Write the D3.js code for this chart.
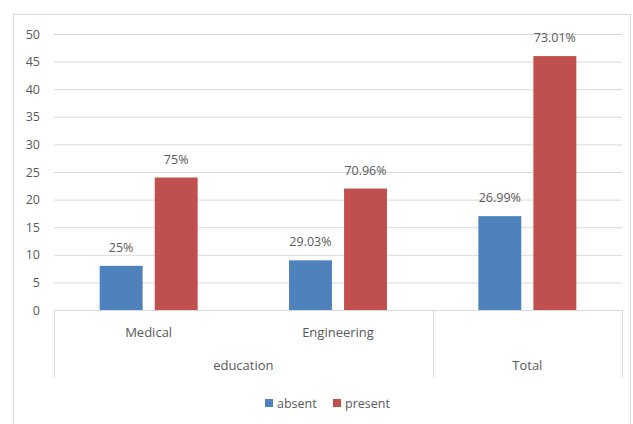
<!DOCTYPE html>
<html><head><meta charset="utf-8">
<script src="https://cdn.jsdelivr.net/npm/d3@7"></script>
<style>body{margin:0;background:#fff;} text{font-family:"Open Sans","Noto Sans",sans-serif;}</style>
</head><body>
<svg id="c" width="633" height="424"></svg>
<script>
const categories = ["Medical", "Engineering", "Total"];
const groups = [{name: "education", members: ["Medical", "Engineering"]}, {name: "Total", members: ["Total"]}];
const seriesNames = ["absent", "present"];
const absentValues = [8, 9, 17];
const presentValues = [24, 22, 46];
const absentLabels = ["25%", "29.03%", "26.99%"];
const presentLabels = ["75%", "70.96%", "73.01%"];
const yTicks = [0, 5, 10, 15, 20, 25, 30, 35, 40, 45, 50];
const colors = {absent: "#4F81BD", present: "#C0504D"};

(function () {
const svg = d3.select("#c");
const W = 633, H = 424;
svg.append("rect").attr("x", 13.5).attr("y", 14.5).attr("width", W - 16).attr("height", H).attr("fill", "#fff").attr("stroke", "#d9d9d9");

const pLeft = 54, pRight = 622, pTop = 34, pBottom = 310;
const y = d3.scaleLinear().domain([0, 50]).range([pBottom, pTop]);
const x = d3.scaleBand().domain(categories).range([pLeft, pRight]).paddingInner(0).paddingOuter(0);
const xs = d3.scaleBand().domain(seriesNames).range([0, x.bandwidth()]).paddingInner(0.22).paddingOuter(0.83);

const yAxis = d3.axisLeft(y).tickValues(yTicks).tickSize(-(pRight - pLeft)).tickPadding(14);
const gy = svg.append("g").attr("transform", `translate(${pLeft},0)`).call(yAxis);
gy.select(".domain").remove();
gy.selectAll(".tick line").attr("stroke", "#d9d9d9").attr("stroke-width", 1);
gy.selectAll(".tick text").attr("fill", "#595959").attr("font-size", 12.5).attr("font-family", "'Open Sans',sans-serif");

const data = categories.map((c, i) => ({cat: c, vals: [
  {s: "absent", v: absentValues[i], l: absentLabels[i]},
  {s: "present", v: presentValues[i], l: presentLabels[i]}]}));
const cg = svg.selectAll(".cat").data(data).enter().append("g").attr("transform", d => `translate(${x(d.cat)},0)`);
cg.selectAll("rect").data(d => d.vals).enter().append("rect")
  .attr("x", d => xs(d.s)).attr("width", xs.bandwidth())
  .attr("y", d => y(d.v)).attr("height", d => y(0) - y(d.v))
  .attr("fill", d => colors[d.s]);
cg.selectAll("text.lbl").data(d => d.vals).enter().append("text").attr("class", "lbl")
  .attr("x", d => xs(d.s) + xs.bandwidth() / 2).attr("y", d => y(d.v) - 14)
  .attr("text-anchor", "middle").attr("fill", "#595959").attr("font-size", 12.5).text(d => d.l);

const axisG = svg.append("g");
const lineC = "#d9d9d9";
axisG.append("line").attr("x1", pLeft).attr("x2", pRight).attr("y1", pBottom + 0.5).attr("y2", pBottom + 0.5).attr("stroke", lineC);
const boundaries = [pLeft, x("Total"), pRight];
boundaries.forEach(bx => axisG.append("line").attr("x1", Math.round(bx) + 0.5).attr("x2", Math.round(bx) + 0.5).attr("y1", pBottom).attr("y2", 377).attr("stroke", lineC));
categories.filter(c => c !== "Total").forEach(c => {
  axisG.append("text").attr("x", x(c) + x.bandwidth() / 2).attr("y", 337).attr("text-anchor", "middle")
    .attr("fill", "#595959").attr("font-size", 13).text(c);
});
groups.forEach(g => {
  const x0 = x(g.members[0]), x1 = x(g.members[g.members.length - 1]) + x.bandwidth();
  axisG.append("text").attr("x", (x0 + x1) / 2).attr("y", 370).attr("text-anchor", "middle")
    .attr("fill", "#595959").attr("font-size", 13).text(g.name);
});

const leg = svg.append("g").attr("transform", "translate(265,397)");
const legX = [0, 68];
seriesNames.forEach((s, i) => {
  const g = leg.append("g").attr("transform", `translate(${legX[i]},0)`);
  g.append("rect").attr("width", 8).attr("height", 8).attr("y", 2).attr("fill", colors[s]);
  g.append("text").attr("x", 12).attr("y", 10.5).attr("fill", "#595959").attr("font-size", 12.5).text(s);
});
})();
</script>
</body></html>
